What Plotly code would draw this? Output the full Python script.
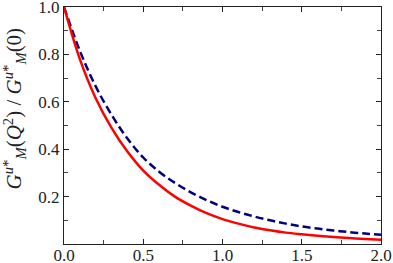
import plotly.graph_objects as go

q2 = [0.0, 0.1, 0.2, 0.3, 0.4, 0.5, 0.6, 0.7, 0.8, 0.9, 1.0,
      1.1, 1.2, 1.3, 1.4, 1.5, 1.6, 1.7, 1.8, 1.9, 2.0]
red_vals = [1.0, 0.78, 0.615, 0.49, 0.39, 0.31, 0.25, 0.20, 0.162, 0.13, 0.105,
            0.086, 0.07, 0.058, 0.048, 0.041, 0.035, 0.03, 0.025, 0.021, 0.018]
blue_vals = [1.0, 0.815, 0.665, 0.545, 0.445, 0.365, 0.305, 0.258, 0.218, 0.185, 0.157,
             0.135, 0.116, 0.1, 0.086, 0.074, 0.065, 0.057, 0.05, 0.044, 0.039]
x_ticks = [0.0, 0.5, 1.0, 1.5, 2.0]
y_ticks = [0.2, 0.4, 0.6, 0.8, 1.0]

fig = go.Figure()
fig.add_trace(go.Scatter(x=q2, y=blue_vals, mode="lines", line_shape="spline",
                         line=dict(color="#000080", width=2.5, dash="8px,4px")))
fig.add_trace(go.Scatter(x=q2, y=red_vals, mode="lines", line_shape="spline",
                         line=dict(color="#ff0000", width=2.5)))

SERIF = "Liberation Serif"
font = dict(family=SERIF, size=17, color="#222")
axis_common = dict(showgrid=False, zeroline=False, showline=True, linecolor="#222",
                   linewidth=1, mirror="allticks", ticks="inside", ticklen=5,
                   tickcolor="#222", tickwidth=1, tickfont=font, automargin=False,
                   ticklabeloverflow="allow")
fig.update_xaxes(range=[0, 2], tickvals=x_ticks, ticktext=[f"{v:.1f}" for v in x_ticks],
                 minor=dict(dtick=0.25, tick0=0, ticks="inside", ticklen=4, tickcolor="#444"),
                 ticklabelstandoff=-4, **axis_common)
fig.update_yaxes(range=[0, 1], tickvals=y_ticks, ticktext=[f"{v:.1f}" for v in y_ticks],
                 minor=dict(dtick=0.1, tick0=0, ticks="inside", ticklen=4, tickcolor="#444"),
                 **axis_common)

fig.add_annotation(
    text="<i>G</i><sup><i>u</i>*</sup><sub><i>M</i></sub>(<i>Q</i><sup>2</sup>) / <i>G</i><sup><i>u</i>*</sup><sub><i>M</i></sub>(0)",
    xref="paper", yref="paper", x=0, y=0.572, xanchor="center", yanchor="middle",
    xshift=-50, textangle=-90, showarrow=False,
    font=dict(family=SERIF, size=21, color="#222"))

fig.update_layout(width=393, height=263, margin=dict(l=64, r=12, t=7, b=19, autoexpand=False),
                  paper_bgcolor="white", plot_bgcolor="white", showlegend=False,
                  font=dict(family=SERIF))
fig.write_html("out.html", config={"displayModeBar": False},
               post_script="document.body.style.margin='0';document.body.style.overflow='hidden';")
